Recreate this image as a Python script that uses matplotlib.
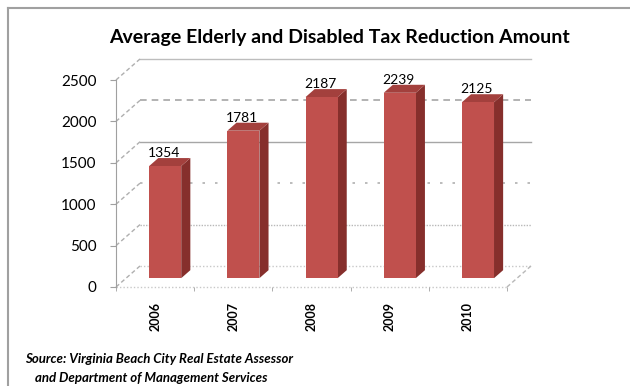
import matplotlib.pyplot as plt
from matplotlib.patches import Polygon
from matplotlib.lines import Line2D

# --- DATA ---
years = ['2006', '2007', '2008', '2009', '2010']
amounts = [1354, 1781, 2187, 2239, 2125]
y_ticks = [0, 500, 1000, 1500, 2000, 2500]

title = 'Average Elderly and Disabled Tax Reduction Amount'
source_1 = 'Source: Virginia Beach City Real Estate Assessor'
source_2 = 'and Department of Management Services'

plt.rcParams['font.family'] = ['Lato', 'DejaVu Sans']

# --- STYLE ---
FRONT, SIDE, TOP = '#C0504D', '#862F2C', '#A3403D'
GRID = '#A6A6A6'
DX, DY = 0.307, 254          # depth of the fake 3d box, in data units
T1, T2, W = 0.42, 0.80, 0.41  # bar front/back depth and bar width

# one style per back-wall gridline, bottom to top
wall_styles = [
    dict(color='#C8C8C8', ls=(0, (1, 1.5)), lw=1.0),
    dict(color='#B8B8B8', ls=(0, (1, 1)), lw=1.0),
    dict(color='#B0B0B0', ls=(0, (1.5, 6)), lw=1.2),
    dict(color=GRID, ls='-', lw=1.0),
    dict(color=GRID, ls=(0, (4, 3)), lw=1.2),
    dict(color='#BDBDBD', ls='-', lw=1.0),
]

fig = plt.figure(figsize=(6.3, 3.86), dpi=100)
ax = fig.add_axes([116/630, 99/386, 391/630, 207/386])
ax.set_xlim(-0.5, 4.5)
ax.set_ylim(0, 2500)

# back wall + left wall
x0, x1 = -0.5, len(years) - 0.5
for v, st in zip(y_ticks, wall_styles):
    ax.plot([x0 + DX, x1 + DX], [v + DY, v + DY], clip_on=False, zorder=1, **st)
    ax.plot([x0, x0 + DX], [v, v + DY], color='#AFAFAF', ls=(0, (3, 2)), lw=1.0, clip_on=False, zorder=1)
# floor
ax.plot([x0, x1], [0, 0], color='#C8C8C8', ls=(0, (1, 1.5)), lw=1.0, clip_on=False, zorder=1)
ax.plot([x1, x1 + DX], [0, DY], color='#B8B8B8', ls=(0, (3, 2)), lw=1.0, clip_on=False, zorder=1)

# bars
for i, v in enumerate(amounts):
    l, r = i - W/2, i + W/2
    front = [(l + T1*DX, T1*DY), (r + T1*DX, T1*DY), (r + T1*DX, v + T1*DY), (l + T1*DX, v + T1*DY)]
    side = [(r + T1*DX, T1*DY), (r + T2*DX, T2*DY), (r + T2*DX, v + T2*DY), (r + T1*DX, v + T1*DY)]
    top = [(l + T1*DX, v + T1*DY), (r + T1*DX, v + T1*DY), (r + T2*DX, v + T2*DY), (l + T2*DX, v + T2*DY)]
    ax.add_patch(Polygon(side, closed=True, facecolor=SIDE, edgecolor='none', zorder=3, clip_on=False))
    ax.add_patch(Polygon(top, closed=True, facecolor=TOP, edgecolor='none', zorder=3, clip_on=False))
    ax.add_patch(Polygon(front, closed=True, facecolor=FRONT, edgecolor='none', zorder=4, clip_on=False))
    ax.text(i + T1*DX - 0.02, v + T2*DY + 10, str(v), ha='center', va='baseline',
            fontsize=10, color='black', zorder=5)

# axes
for s in ['top', 'right', 'bottom']:
    ax.spines[s].set_visible(False)
ax.spines['left'].set_color('#A0A0A0')
ax.spines['left'].set_zorder(2)
ax.set_yticks(y_ticks)
ax.tick_params(axis='y', direction='out', length=4, color='#A0A0A0', labelsize=11, pad=10)
ax.set_xticks(range(len(years)))
ax.set_xticklabels(years, rotation=90, fontweight='bold', fontsize=9)
ax.set_xticks([k - 0.5 for k in range(len(years) + 1)], minor=True)
ax.tick_params(axis='x', which='major', length=0, pad=11)
ax.tick_params(axis='x', which='minor', direction='out', length=3, color='#A0A0A0')
ax.patch.set_visible(False)

# titles and frame
fig.text(339/630, 1 - 38/386, title, ha='center', va='center', fontsize=14, fontweight='bold')
fig.text(159/630, 1 - 359/386, source_1, ha='center', va='center', fontsize=9.5, fontweight='bold', style='italic')
fig.text(151/630, 1 - 378/386, source_2, ha='center', va='center', fontsize=9.5, fontweight='bold', style='italic')
fig.add_artist(Line2D([8/630, 8/630], [0, 1 - 8/386], color='#A0A0A0', lw=1.5))
fig.add_artist(Line2D([8/630, 1], [1 - 8/386, 1 - 8/386], color='#A0A0A0', lw=1.5))

fig.savefig('out.png', dpi=100)
